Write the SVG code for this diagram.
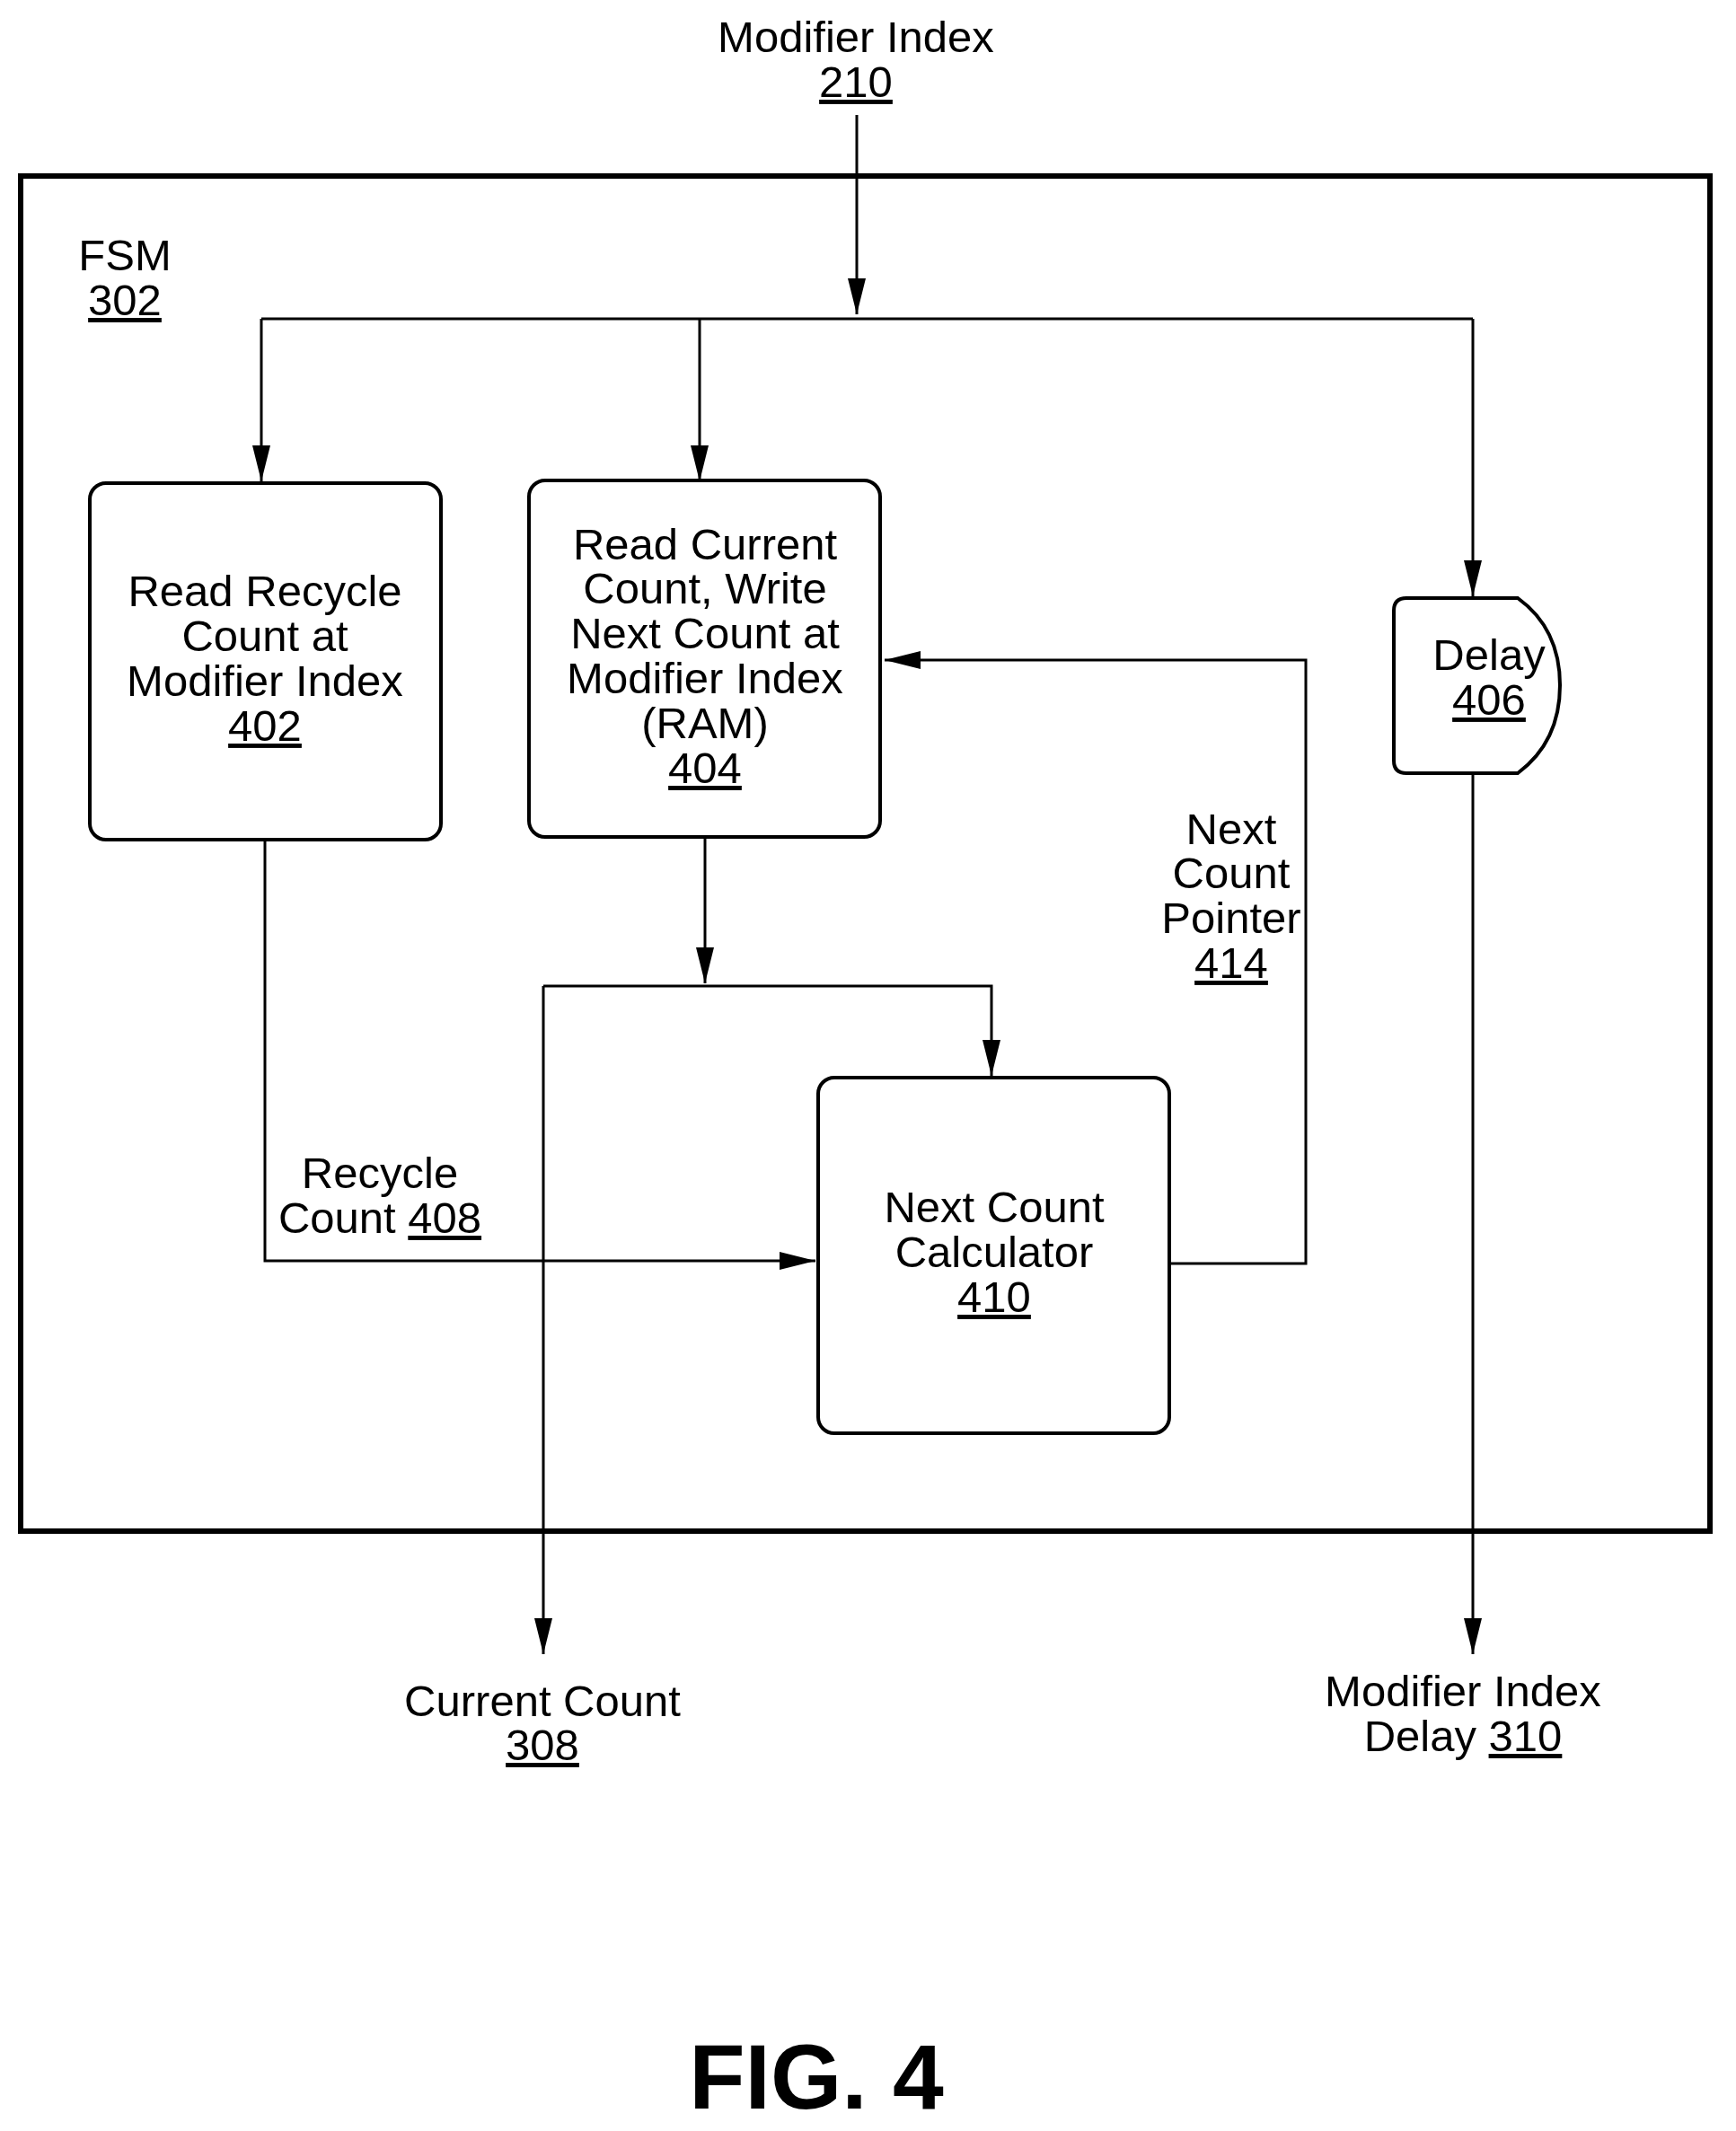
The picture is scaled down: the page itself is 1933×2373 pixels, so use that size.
<svg xmlns="http://www.w3.org/2000/svg" width="1933" height="2373" viewBox="0 0 1933 2373">
<style>
text{font-family:"Liberation Sans",Arial,sans-serif;font-size:49px;text-anchor:middle;fill:#000}
.u{text-decoration:underline}
.box{fill:#fff;stroke:#000;stroke-width:4}
.ln{fill:none;stroke:#000;stroke-width:3}
</style>
<defs>
<marker id="b" markerWidth="40" markerHeight="20" refX="40" refY="10" orient="auto" markerUnits="userSpaceOnUse" viewBox="0 0 40 20"><path d="M0,0L40,10L0,20Z" fill="#000"/></marker></defs>
<rect x="0" y="0" width="1933" height="2373" fill="#fff"/>
<g id="fsm"><rect x="23" y="196" width="1881" height="1509" fill="none" stroke="#000" stroke-width="6"/>
<text x="139" y="301">FSM</text><text x="139" y="351" class="u">302</text></g>
<g id="n402"><rect class="box" x="100" y="538" width="391" height="397" rx="18"/>
<text x="295" y="675">Read Recycle</text><text x="295" y="725">Count at</text><text x="295" y="775">Modifier Index</text><text x="295" y="825" class="u">402</text></g>
<g id="n404"><rect class="box" x="589" y="535" width="391" height="397" rx="18"/>
<text x="785" y="623">Read Current</text><text x="785" y="672">Count, Write</text><text x="785" y="722">Next Count at</text><text x="785" y="772">Modifier Index</text><text x="785" y="822">(RAM)</text><text x="785" y="872" class="u">404</text></g>
<g id="n406"><path class="box" d="M1552,680 q0,-14 14,-14 H1690 Q1737,700 1737,763 Q1737,826 1690,861 H1566 q-14,0 -14,-14 Z"/>
<text x="1658" y="746">Delay</text><text x="1658" y="796" class="u">406</text></g>
<g id="n410"><rect class="box" x="911" y="1200" width="391" height="396" rx="18"/>
<text x="1107" y="1361">Next Count</text><text x="1107" y="1411">Calculator</text><text x="1107" y="1461" class="u">410</text></g>
<g id="labels">
<text x="953" y="58">Modifier Index</text><text x="953" y="108" class="u">210</text>
<text x="423" y="1323">Recycle</text><text x="423" y="1373">Count <tspan class="u">408</tspan></text>
<text x="1371" y="940">Next</text><text x="1371" y="989">Count</text><text x="1371" y="1039">Pointer</text><text x="1371" y="1089" class="u">414</text>
<text x="604" y="1911">Current Count</text><text x="604" y="1960" class="u">308</text>
<text x="1629" y="1900">Modifier Index</text><text x="1629" y="1950">Delay <tspan class="u">310</tspan></text>
<text x="909" y="2348" style="font-size:102px;font-weight:bold">FIG. 4</text></g>
<g id="connectors">
<path class="ln" d="M954,128V350" marker-end="url(#b)"/>
<path class="ln" d="M291,355H1640"/>
<path class="ln" d="M291,355V536" marker-end="url(#b)"/>
<path class="ln" d="M779,355V536" marker-end="url(#b)"/>
<path class="ln" d="M1640,355V664" marker-end="url(#b)"/>
<path class="ln" d="M785,932V1095" marker-end="url(#b)"/>
<path class="ln" d="M605,1098H1104V1198" marker-end="url(#b)"/>
<path class="ln" d="M605,1098V1842" marker-end="url(#b)"/>
<path class="ln" d="M295,935V1404H908" marker-end="url(#b)"/>
<path class="ln" d="M1302,1407H1454V735H985" marker-end="url(#b)"/>
<path class="ln" d="M1640,861V1842" marker-end="url(#b)"/>
</g>
</svg>
